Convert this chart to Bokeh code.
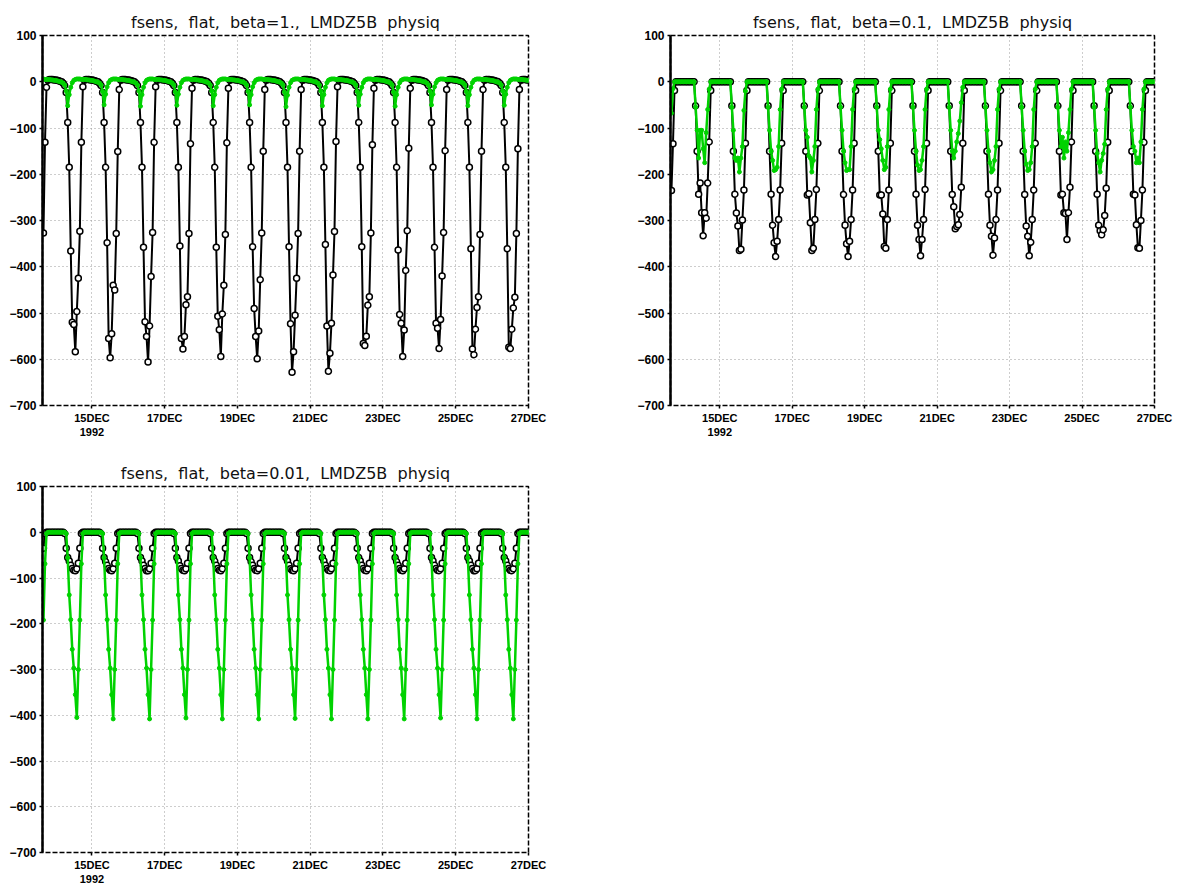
import numpy as np
from bokeh.plotting import figure
from bokeh.models import FixedTicker, Range1d
from bokeh.layouts import column, row
from bokeh.embed import file_html
from bokeh.resources import INLINE

# ---------------- time axis (hourly, days of December 1992) ----------------
T_START = 13 + 16 / 24.0          # first sample: 13 Dec 1992 16:00
X_START, X_END = 13.64, 27.0
x_ticks = [15, 17, 19, 21, 23, 25, 27]
x_labels = ["15DEC\n1992", "17DEC", "19DEC", "21DEC", "23DEC", "25DEC", "27DEC"]
y_ticks = [-700, -600, -500, -400, -300, -200, -100, 0, 100]
y_labels = ["\u2212700", "\u2212600", "\u2212500", "\u2212400", "\u2212300",
            "\u2212200", "\u2212100", "0", "100"]

# Each series: 13 Dec 16h-18h tail, then a quiet period (h19..h6) and a daytime dip (h7..h18)
# ---------------- panel 1 : beta=1. ----------------
b1_tail = [-327, -131, -12]
b1_quiet = [3, 5, 5, 5, 4, 4, 3, 2, 1, 0, -3, -8]
b1_dips = [
    [-23, -88, -185, -366, -520, -525, -584, -497, -425, -323, -131, -11],
    [-23, -88, -185, -348, -555, -597, -545, -440, -450, -328, -151, -17],
    [-23, -88, -185, -358, -519, -551, -606, -528, -421, -326, -131, -11],
    [-23, -88, -185, -355, -555, -578, -551, -482, -465, -328, -134, -14],
    [-23, -88, -185, -358, -507, -536, -594, -502, -440, -330, -132, -14],
    [-23, -88, -185, -357, -490, -551, -599, -539, -428, -327, -150, -17],
    [-23, -88, -185, -357, -523, -628, -584, -505, -425, -328, -150, -17],
    [-23, -88, -185, -352, -528, -626, -587, -522, -418, -324, -129, -11],
    [-23, -88, -185, -357, -566, -570, -550, -483, -465, -327, -136, -14],
    [-23, -88, -185, -364, -503, -522, -594, -537, -408, -322, -144, -14],
    [-23, -88, -185, -358, -522, -533, -577, -514, -420, -326, -149, -17],
    [-23, -88, -185, -361, -578, -590, -535, -488, -465, -330, -150, -17],
    [-23, -88, -185, -361, -574, -577, -535, -489, -466, -328, -145, -17],
]
g1_tail = [6, 5, 5]
g1_quiet = [5, 5, 4, 4, 3, 3, 2, 1, 0, -1, -3, -7]
g1_dips = [
    [-20, -52, -28, -12, -2, 3, 5, 6, 6, 6, 5, 5],
    [-21, -50, -27, -11, -2, 3, 5, 6, 6, 6, 5, 5],
    [-20, -53, -28, -12, -2, 3, 5, 6, 6, 6, 5, 5],
    [-22, -51, -27, -12, -2, 3, 5, 6, 6, 6, 5, 5],
    [-20, -52, -28, -12, -2, 3, 5, 6, 6, 6, 5, 5],
    [-21, -50, -28, -11, -2, 3, 5, 6, 6, 6, 5, 5],
    [-22, -54, -29, -12, -2, 3, 5, 6, 6, 6, 5, 5],
    [-20, -52, -28, -12, -2, 3, 5, 6, 6, 6, 5, 5],
    [-21, -51, -27, -12, -2, 3, 5, 6, 6, 6, 5, 5],
    [-22, -53, -28, -12, -2, 3, 5, 6, 6, 6, 5, 5],
    [-20, -50, -27, -11, -2, 3, 5, 6, 6, 6, 5, 5],
    [-21, -52, -28, -12, -2, 3, 5, 6, 6, 6, 5, 5],
    [-20, -51, -27, -12, -2, 3, 5, 6, 6, 6, 5, 5],
]

# ---------------- panel 2 : beta=0.1 ----------------
b2_tail = [-235, -134, -19]
b2_quiet = [0, 0, 0, 0, 0, 0, 0, 0, 0, 0, 0, 0]
b2_dips = [
    [0, -52, -150, -243, -219, -283, -333, -283, -295, -219, -130, -19],
    [0, -52, -150, -243, -284, -312, -365, -362, -299, -234, -133, -19],
    [0, -52, -150, -243, -310, -348, -378, -345, -298, -234, -133, -19],
    [0, -52, -150, -245, -242, -305, -365, -360, -298, -233, -133, -19],
    [0, -52, -150, -244, -310, -350, -378, -345, -298, -234, -133, -19],
    [0, -52, -150, -245, -245, -286, -356, -360, -298, -234, -133, -19],
    [0, -52, -150, -243, -310, -341, -376, -341, -298, -233, -133, -19],
    [0, -52, -150, -244, -270, -318, -313, -309, -287, -228, -133, -19],
    [0, -52, -150, -243, -310, -334, -375, -338, -298, -234, -133, -19],
    [0, -52, -150, -244, -312, -334, -376, -347, -298, -234, -133, -19],
    [0, -52, -150, -245, -243, -283, -285, -341, -283, -228, -130, -19],
    [0, -52, -150, -243, -310, -322, -331, -320, -289, -230, -131, -19],
    [0, -52, -150, -243, -245, -309, -359, -360, -300, -234, -131, -19],
]
g2_tail = [-68, -15, 0]
g2_quiet = [0, 0, 0, 0, 0, 0, 0, 0, 0, 0, 0, 0]
g2_dips = [
    [0, -55, -105, -165, -105, -105, -145, -175, -110, -60, -16, 0],
    [0, -55, -105, -165, -170, -165, -195, -165, -140, -62, -20, 0],
    [0, -55, -105, -150, -170, -192, -190, -185, -140, -60, -16, 0],
    [0, -55, -105, -120, -160, -165, -195, -170, -140, -60, -16, 0],
    [0, -55, -105, -150, -175, -192, -190, -190, -140, -60, -16, 0],
    [0, -55, -105, -125, -145, -170, -190, -185, -140, -60, -16, 0],
    [0, -55, -105, -150, -180, -192, -190, -170, -140, -60, -16, 0],
    [0, -55, -105, -150, -165, -150, -130, -112, -85, -45, -12, 0],
    [0, -55, -105, -150, -175, -195, -190, -170, -140, -60, -16, 0],
    [0, -55, -105, -150, -178, -192, -190, -175, -140, -60, -16, 0],
    [0, -55, -105, -140, -120, -165, -130, -150, -110, -60, -16, 0],
    [0, -55, -105, -155, -175, -195, -170, -155, -135, -60, -16, 0],
    [0, -55, -105, -140, -150, -175, -165, -175, -130, -60, -16, 0],
]

# ---------------- panel 3 : beta=0.01 ----------------
b3_tail = [-35, -3, 0]
b3_quiet = [0, 0, 0, 0, 0, 0, 0, 0, 0, 0, 0, -3]
b3_dips = [
    [-35, -55, -63, -72, -79, -83, -84, -80, -68, -35, -3, 0],
    [-35, -55, -64, -72, -79, -83, -84, -80, -68, -35, -3, 0],
    [-35, -55, -63, -72, -79, -84, -84, -80, -68, -35, -3, 0],
    [-35, -55, -63, -73, -79, -83, -84, -80, -68, -35, -3, 0],
    [-35, -55, -63, -72, -79, -83, -84, -80, -68, -35, -3, 0],
    [-35, -55, -64, -72, -79, -83, -84, -80, -68, -35, -3, 0],
    [-35, -55, -63, -72, -80, -83, -84, -80, -68, -35, -3, 0],
    [-35, -55, -63, -72, -79, -83, -84, -80, -68, -35, -3, 0],
    [-35, -55, -63, -72, -79, -83, -84, -80, -68, -35, -3, 0],
    [-35, -55, -64, -72, -79, -83, -84, -80, -68, -35, -3, 0],
    [-35, -55, -63, -72, -79, -83, -84, -80, -68, -35, -3, 0],
    [-35, -55, -63, -72, -79, -84, -84, -80, -68, -35, -3, 0],
    [-35, -55, -63, -72, -79, -83, -84, -80, -68, -35, -3, 0],
]
g3_tail = [-192, -69, -3]
g3_quiet = [0, 0, 0, 0, 0, 0, 0, 0, 0, 0, 0, 0]
g3_dips = [
    [-3, -56, -137, -191, -256, -297, -355, -405, -300, -192, -69, -3],
    [-3, -56, -137, -191, -256, -297, -355, -408, -300, -192, -69, -3],
    [-3, -56, -137, -191, -256, -297, -355, -408, -300, -192, -69, -3],
    [-3, -56, -137, -191, -256, -297, -355, -406, -300, -192, -69, -3],
    [-3, -56, -137, -191, -256, -297, -355, -408, -300, -192, -69, -3],
    [-3, -56, -137, -191, -256, -297, -355, -408, -300, -192, -69, -3],
    [-3, -56, -137, -191, -256, -297, -355, -407, -300, -192, -69, -3],
    [-3, -56, -137, -191, -256, -297, -355, -408, -300, -192, -69, -3],
    [-3, -56, -137, -191, -256, -297, -355, -408, -300, -192, -69, -3],
    [-3, -56, -137, -191, -256, -297, -355, -408, -300, -192, -69, -3],
    [-3, -56, -137, -191, -256, -297, -355, -406, -300, -192, -69, -3],
    [-3, -56, -137, -191, -256, -297, -355, -408, -300, -192, -69, -3],
    [-3, -56, -137, -191, -256, -297, -355, -408, -300, -192, -69, -3],
]

titles = ["fsens,\u00a0 flat,\u00a0 beta=1.,\u00a0 LMDZ5B\u00a0 physiq",
          "fsens,\u00a0 flat,\u00a0 beta=0.1,\u00a0 LMDZ5B\u00a0 physiq",
          "fsens,\u00a0 flat,\u00a0 beta=0.01,\u00a0 LMDZ5B\u00a0 physiq"]

BLACK = "#000000"
GREEN = "#00d200"


def build(tail, quiet, dips):
    vals = list(tail) + list(quiet[:5])
    for d in dips:
        vals += list(quiet[5:]) + list(d) + list(quiet[:5])
    vals += [quiet[5]]
    return np.array(vals, dtype=float)


def make_panel(title, blk, grn, w, h, bl, br, bt, bb):
    p = figure(width=w, height=h, x_range=Range1d(X_START, X_END),
               y_range=Range1d(-700, 100), output_backend="svg",
               toolbar_location=None, min_border_left=bl, min_border_right=br,
               min_border_top=bt, min_border_bottom=bb)
    p.title.text = title
    p.title.align = "center"
    p.title.text_font = "DejaVu Sans"
    p.title.text_font_size = "16px"
    p.title.text_font_style = "normal"
    p.title.text_color = "#111111"
    p.title.standoff = 8

    p.outline_line_color = "black"
    p.outline_line_dash = "5 2"
    p.outline_line_width = 1.5
    p.outline_line_alpha = 1.0
    p.background_fill_color = "white"
    p.border_fill_color = "white"

    p.xaxis.ticker = FixedTicker(ticks=x_ticks)
    p.xaxis.major_label_overrides = {t: l for t, l in zip(x_ticks, x_labels)}
    p.yaxis.ticker = FixedTicker(ticks=y_ticks)
    p.yaxis.major_label_overrides = {t: l for t, l in zip(y_ticks, y_labels)}
    for ax in (p.xaxis, p.yaxis):
        ax.major_label_text_font = "Liberation Sans"
        ax.major_label_text_font_style = "bold"
        ax.major_label_text_color = "black"
        ax.minor_tick_line_color = None
        ax.major_tick_line_color = "black"
        ax.major_tick_line_width = 1.5
        ax.major_tick_in = 0
        ax.major_tick_out = 3
        ax.major_label_standoff = 3
    p.xaxis.major_label_text_font_size = "11px"
    p.yaxis.major_label_text_font_size = "12px"
    p.yaxis.axis_line_color = "black"
    p.yaxis.axis_line_width = 2.5
    p.xaxis.axis_line_color = None

    for g in (p.xgrid, p.ygrid):
        g.grid_line_color = "#9a9a9a"
        g.grid_line_dash = "1 3"
        g.grid_line_width = 1
    p.xgrid.ticker = FixedTicker(ticks=x_ticks)
    p.ygrid.ticker = FixedTicker(ticks=y_ticks)

    t = T_START + np.arange(len(blk)) / 24.0
    p.line(t, blk, line_color=BLACK, line_width=2)
    p.scatter(t, blk, marker="circle", size=6, fill_color="white",
              line_color=BLACK, line_width=1.5)
    t2 = T_START + np.arange(len(grn)) / 24.0
    p.line(t2, grn, line_color=GREEN, line_width=2.5)
    p.scatter(t2, grn, marker="circle", size=4, fill_color=GREEN,
              line_color=GREEN, line_width=1)
    return p


p1 = make_panel(titles[0], build(b1_tail, b1_quiet, b1_dips),
                build(g1_tail, g1_quiet, g1_dips), 590, 443, 42, 62, 35, 38)
p2 = make_panel(titles[1], build(b2_tail, b2_quiet, b2_dips),
                build(g2_tail, g2_quiet, g2_dips), 591, 443, 80, 27, 35, 38)
p3 = make_panel(titles[2], build(b3_tail, b3_quiet, b3_dips),
                build(g3_tail, g3_quiet, g3_dips), 590, 444, 42, 62, 43, 31)

layout = column(row(p1, p2), row(p3))
open("out.html", "w").write(file_html(layout, INLINE))
